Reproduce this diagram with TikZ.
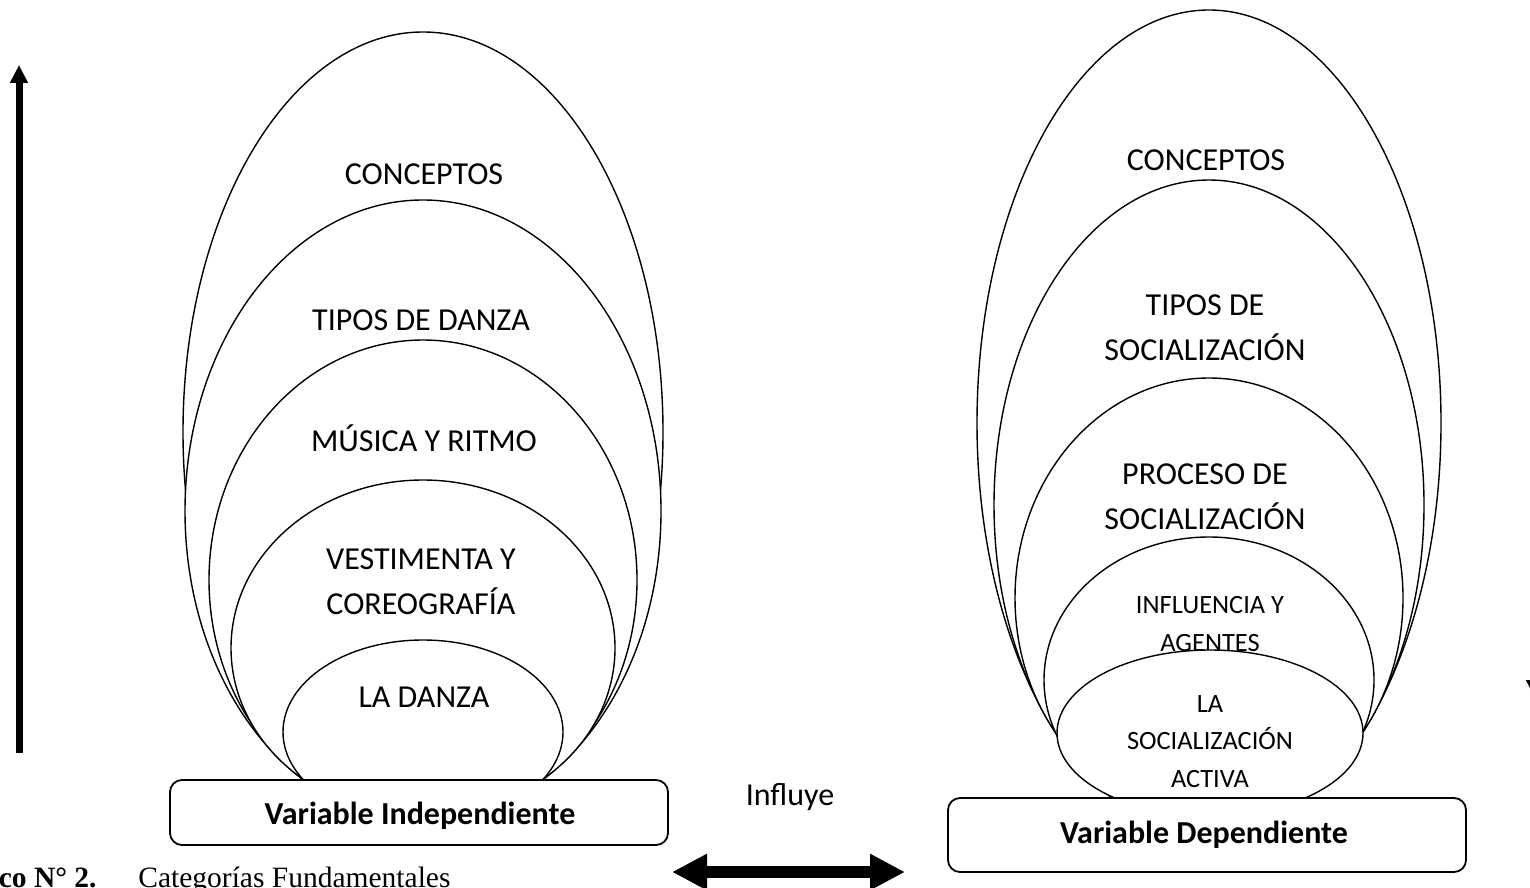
\documentclass[tikz,border=0pt]{standalone}
\usepackage{fontspec}
\setmainfont{Carlito}
\newfontfamily\capfont{Liberation Serif}
\usetikzlibrary{shapes.geometric,arrows.meta}
\begin{document}
\begin{tikzpicture}[x=0.5pt,y=-0.5pt,
  ring/.style={ellipse,draw=black,fill=white,line width=0.7pt,inner sep=0pt,outer sep=0pt},
  lbl/.style={align=center,inner sep=0pt,font=\fontsize{16}{22.5}\selectfont},
  slbl/.style={align=center,inner sep=0pt,font=\fontsize{13.2}{18.8}\selectfont},
  varbox/.style={draw=black,fill=white,rounded corners=6pt,line width=0.9pt,inner sep=0pt},
  vartext/.style={inner sep=0pt,anchor=base,font=\bfseries\fontsize{16}{20}\selectfont},
  bigarrow/.style={line width=6pt,{Triangle[length=17.5pt,width=17pt]}-{Triangle[length=17.5pt,width=17pt]}},
  vertarrow/.style={line width=3.5pt,-{Triangle[length=9pt,width=8.5pt]}},
  captext/.style={inner sep=0pt,font=\capfont\fontsize{14.75}{17}\selectfont}
]
\useasboundingbox (0,0) rectangle (1530,888);

% ---------- left cluster ----------
\node[ring,minimum width=240pt,minimum height=400pt] (L1) at (423,432) {};
\node[ring,minimum width=238pt,minimum height=311pt] (L2) at (423,511) {};
\node[ring,minimum width=214pt,minimum height=240pt] (L3) at (423,580) {};
\node[ring,minimum width=192pt,minimum height=168pt] (L4) at (423,648) {};
\node[ring,minimum width=140pt,minimum height=92pt] (L5) at (423,732) {};

\node[lbl,anchor=base] (tL1) at (424,184.5) {CONCEPTOS};
\node[lbl,anchor=base] (tL2) at (421,330.5) {TIPOS DE DANZA};
\node[lbl,anchor=base] (tL3) at (424,451.5) {MÚSICA Y RITMO};
\node[lbl] (tL4) at (421,582) {VESTIMENTA Y\\COREOGRAFÍA};
\node[lbl,anchor=base] (tL5) at (424,707) {LA DANZA};

\node[varbox,minimum width=249pt,minimum height=32.5pt] (boxL) at (419,812.5) {};
\node[vartext] (tboxL) at (420,824) {Variable Independiente};

% ---------- right cluster ----------
\node[ring,minimum width=232pt,minimum height=413pt] (R1) at (1209,423) {};
\node[ring,minimum width=215pt,minimum height=325pt] (R2) at (1209,505) {};
\node[ring,minimum width=194pt,minimum height=220pt] (R3) at (1209,598) {};
\node[ring,minimum width=165pt,minimum height=143pt] (R4) at (1209,680) {};

\node[lbl,anchor=base] (tR1) at (1206,170.5) {CONCEPTOS};
\node[lbl] (tR2) at (1205,327.5) {TIPOS DE\\SOCIALIZACIÓN};
\node[lbl] (tR3) at (1205,496.5) {PROCESO DE\\SOCIALIZACIÓN};
\node[slbl] (tR4) at (1210,624) {INFLUENCIA Y\\AGENTES};

\node[ring,minimum width=153pt,minimum height=83pt] (R5) at (1210,733) {};
\node[slbl] (tR5) at (1210,741.5) {LA\\SOCIALIZACIÓN\\ACTIVA};

\node[varbox,minimum width=259pt,minimum height=37pt] (boxR) at (1207,835) {};
\node[vartext] (tboxR) at (1204,843) {Variable Dependiente};

% ---------- middle ----------
\node[lbl,anchor=base] (infl) at (790,805) {Influye};
\coordinate (aL) at (672,872);
\coordinate (aR) at (905,872);
\draw[bigarrow] (aL) -- (aR);

% ---------- side arrows ----------
\coordinate (upS) at (19,753);
\coordinate (upE) at (19,65);
\draw[vertarrow] (upS) -- (upE);
\coordinate (dnS) at (1535,80);
\coordinate (dnE) at (1535,698);
\draw[vertarrow] (dnS) -- (dnE);

% ---------- caption ----------
\node[captext,anchor=base east,font=\capfont\bfseries\fontsize{14.75}{17}\selectfont] (capnum) at (97,887) {co N° 2.};
\node[captext,anchor=base west] (capttl) at (138,887) {Categorías Fundamentales};
\end{tikzpicture}
\end{document}
